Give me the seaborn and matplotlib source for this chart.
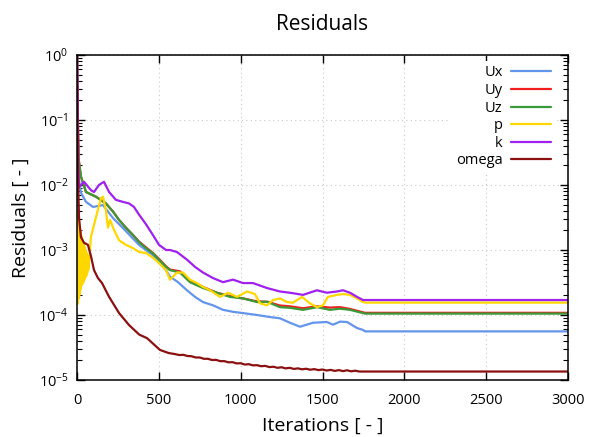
import matplotlib
matplotlib.use("Agg")
import matplotlib.pyplot as plt
import pandas as pd
import seaborn as sns

# residual histories (iteration, residual)
ux_it = [0, 4, 10, 24, 55, 98, 159, 189, 220, 257, 299, 342, 379, 421, 464, 501, 544,
         568, 617, 672, 721, 770, 831, 892, 953, 1014, 1100, 1179, 1240, 1301, 1362,
         1442, 1527, 1564, 1607, 1650, 1711, 1747, 1760, 3000]
ux_res = [1.0, 1.0e-1, 1.3e-2, 7.6e-3, 5.5e-3, 4.6e-3, 4.9e-3, 3.9e-3, 3.1e-3, 2.5e-3,
          1.95e-3, 1.5e-3, 1.2e-3, 1.0e-3, 8.3e-4, 6.6e-4, 4.9e-4, 3.9e-4, 3.2e-4,
          2.4e-4, 1.9e-4, 1.58e-4, 1.41e-4, 1.2e-4, 1.12e-4, 1.07e-4, 1.0e-4, 9.3e-5,
          8.9e-5, 7.6e-5, 6.6e-5, 7.6e-5, 7.8e-5, 7.1e-5, 7.9e-5, 7.8e-5, 6.3e-5,
          5.9e-5, 5.6e-5, 5.6e-5]

uy_it = [0, 4, 10, 24, 55, 116, 177, 220, 257, 299, 342, 379, 421, 464, 501, 544, 568,
         629, 690, 770, 855, 935, 1014, 1100, 1161, 1240, 1301, 1381, 1466, 1546, 1607,
         1668, 1747, 1760, 3000]
uy_res = [1.0, 1.5e-1, 2.5e-2, 1.35e-2, 7.8e-3, 6.6e-3, 5.2e-3, 3.9e-3, 2.9e-3, 2.2e-3,
          1.7e-3, 1.35e-3, 1.1e-3, 9.0e-4, 7.3e-4, 5.6e-4, 5.0e-4, 4.7e-4, 3.4e-4,
          2.7e-4, 2.2e-4, 1.95e-4, 1.8e-4, 1.62e-4, 1.6e-4, 1.4e-4, 1.36e-4, 1.27e-4,
          1.36e-4, 1.3e-4, 1.32e-4, 1.24e-4, 1.1e-4, 1.08e-4, 1.08e-4]

uz_it = [0, 4, 10, 24, 55, 116, 177, 220, 257, 299, 342, 379, 421, 464, 501, 544, 568,
         629, 690, 770, 855, 935, 1014, 1100, 1161, 1240, 1301, 1381, 1466, 1546, 1607,
         1668, 1747, 1760, 3000]
uz_res = [1.0, 1.5e-1, 2.5e-2, 1.35e-2, 7.8e-3, 6.6e-3, 5.2e-3, 3.9e-3, 2.9e-3, 2.2e-3,
          1.7e-3, 1.32e-3, 1.07e-3, 8.9e-4, 7.1e-4, 5.5e-4, 4.9e-4, 4.5e-4, 3.2e-4,
          2.6e-4, 2.2e-4, 1.9e-4, 1.8e-4, 1.58e-4, 1.6e-4, 1.32e-4, 1.29e-4, 1.2e-4,
          1.32e-4, 1.2e-4, 1.25e-4, 1.2e-4, 1.07e-4, 1.05e-4, 1.05e-4]

p_it = [0, 2, 4, 6, 8, 10, 12, 14, 16, 18, 20, 22, 24, 27, 30, 33, 36, 39, 42, 45, 48,
        51, 54, 57, 60, 63, 66, 69, 73, 85, 116, 147, 159, 177, 189, 202, 226, 257, 299,
        342, 379, 421, 464, 501, 544, 568, 611, 648, 690, 733, 770, 813, 874, 923, 978,
        1039, 1087, 1118, 1161, 1198, 1240, 1283, 1320, 1375, 1423, 1466, 1503, 1533,
        1589, 1625, 1668, 1711, 1747, 1760, 3000]
p_res = [4e-3, 2e-4, 3.5e-3, 1.5e-4, 3e-3, 1.8e-4, 2.5e-3, 2e-4, 2.2e-3, 2.2e-4, 2e-3,
         2.5e-4, 1.8e-3, 2.8e-4, 1.6e-3, 3e-4, 1.4e-3, 3.2e-4, 1.2e-3, 3.5e-4, 1.1e-3,
         3.8e-4, 1.0e-3, 4e-4, 9e-4, 4.5e-4, 8e-4, 5e-4, 6.3e-4, 1.58e-3, 3.2e-3, 6.3e-3,
         6.6e-3, 4.0e-3, 2.2e-3, 2.9e-3, 2.04e-3, 1.41e-3, 1.2e-3, 1.07e-3, 9.3e-4,
         9e-4, 7.6e-4, 6.3e-4, 4.9e-4, 3.5e-4, 4.5e-4, 4.5e-4, 3.5e-4, 3.1e-4, 2.7e-4,
         2.4e-4, 1.9e-4, 2.2e-4, 1.9e-4, 2.3e-4, 2.1e-4, 1.51e-4, 1.41e-4, 1.7e-4,
         1.8e-4, 1.58e-4, 1.55e-4, 1.9e-4, 1.51e-4, 1.32e-4, 1.41e-4, 1.9e-4, 2.04e-4,
         2.1e-4, 2.04e-4, 1.8e-4, 1.58e-4, 1.55e-4, 1.55e-4]

k_it = [0, 3, 8, 12, 43, 86, 104, 134, 165, 196, 238, 281, 318, 348, 379, 421, 464, 501,
        544, 568, 611, 672, 721, 770, 831, 892, 953, 1014, 1075, 1161, 1240, 1301, 1381,
        1466, 1527, 1589, 1625, 1668, 1711, 1747, 1760, 3000]
k_res = [1.0, 3e-1, 2e-2, 9.3e-3, 1.12e-2, 8.3e-3, 7.8e-3, 1.0e-2, 1.12e-2, 7.8e-3,
         5.9e-3, 5.5e-3, 5.2e-3, 4.6e-3, 3.5e-3, 2.5e-3, 1.7e-3, 1.2e-3, 1.0e-3, 1.0e-3,
         9.3e-4, 7.1e-4, 5.5e-4, 4.5e-4, 3.7e-4, 3.2e-4, 3.5e-4, 3.1e-4, 3.1e-4, 2.6e-4,
         2.3e-4, 2.2e-4, 2.04e-4, 2.4e-4, 2.2e-4, 2.3e-4, 2.4e-4, 2.2e-4, 1.9e-4,
         1.7e-4, 1.7e-4, 1.7e-4]

omega_it = [0, 2, 6, 12, 24, 43, 67, 86, 104, 128, 153, 196, 257, 318, 380, 428, 507,
            560, 600, 625, 650, 675, 700, 725, 750, 775, 800, 825, 850, 875, 900, 925,
            950, 975, 1000, 1025, 1050, 1075, 1100, 1125, 1150, 1175, 1200, 1225, 1250,
            1275, 1300, 1325, 1350, 1375, 1400, 1425, 1450, 1475, 1500, 1525, 1550, 1575,
            1600, 1625, 1650, 1675, 1700, 1725, 1750, 3000]
omega_res = [1.0, 2e-1, 1.5e-2, 3.2e-3, 1.58e-3, 1.29e-3, 1.2e-3, 7.9e-4, 4.9e-4,
             3.7e-4, 3.1e-4, 1.9e-4, 1.07e-4, 7.0e-5, 5.0e-5, 4.4e-5, 2.9e-5, 2.6e-5,
             2.5e-5, 2.42e-5, 2.44e-5, 2.34e-5, 2.32e-5, 2.22e-5, 2.22e-5, 2.12e-5,
             2.12e-5, 2.03e-5, 2.04e-5, 1.95e-5, 1.95e-5, 1.87e-5, 1.88e-5, 1.8e-5,
             1.81e-5, 1.73e-5, 1.75e-5, 1.68e-5, 1.69e-5, 1.63e-5, 1.65e-5, 1.58e-5,
             1.6e-5, 1.54e-5, 1.57e-5, 1.51e-5, 1.54e-5, 1.48e-5, 1.51e-5, 1.46e-5,
             1.49e-5, 1.44e-5, 1.47e-5, 1.42e-5, 1.45e-5, 1.4e-5, 1.43e-5, 1.38e-5,
             1.42e-5, 1.37e-5, 1.41e-5, 1.36e-5, 1.39e-5, 1.35e-5, 1.35e-5, 1.35e-5]

fields = ["Ux", "Uy", "Uz", "p", "k", "omega"]
colors = ["#6495ed", "#f01e1e", "#3a9a3a", "#ffd700", "#a020f0", "#8b1010"]

series = {
    "Ux": (ux_it, ux_res),
    "Uy": (uy_it, uy_res),
    "Uz": (uz_it, uz_res),
    "p": (p_it, p_res),
    "k": (k_it, k_res),
    "omega": (omega_it, omega_res),
}

sns.set_style("ticks")
plt.rcParams["font.family"] = ["Open Sans", "DejaVu Sans"]
plt.rcParams["mathtext.fontset"] = "custom"
plt.rcParams["mathtext.rm"] = "Open Sans"
plt.rcParams["text.color"] = "black"
plt.rcParams["axes.labelcolor"] = "black"

fig = plt.figure(figsize=(5.98, 4.37), dpi=100)
ax = fig.add_axes([77 / 598, 1 - 380 / 437, 491 / 598, 325 / 437])

for name, col in zip(fields, colors):
    it, res = series[name]
    df = pd.DataFrame({"it": it, "res": res})
    sns.lineplot(data=df, x="it", y="res", ax=ax, color=col, lw=1.6,
                 label=name, estimator=None, sort=False)

ax.set_yscale("log")
ax.set_xlim(0, 3000)
ax.set_ylim(1e-5, 1)
ax.set_xticks(range(0, 3001, 500))
ax.grid(True, which="major", color="#c8c8c8", linestyle=(0, (1, 3)), lw=0.8)
ax.tick_params(which="both", direction="in", top=True, right=True, labelsize=10.5,
               colors="black")
ax.tick_params(which="major", length=6, width=1)
ax.tick_params(axis="x", which="major", pad=9)
ax.tick_params(axis="y", which="major", pad=6)
ax.tick_params(which="minor", length=3.5, width=0.8)
for s in ax.spines.values():
    s.set_linewidth(1.1)
    s.set_color("black")

ax.set_title("Residuals", fontsize=15, pad=18, color="black")
ax.set_xlabel("Iterations [ - ]", fontsize=14, labelpad=7)
ax.set_ylabel("Residuals [ - ]", fontsize=14, labelpad=6)

leg = ax.legend(loc="upper right", bbox_to_anchor=(1 - 13 / 491, 1 - 6 / 325),
                markerfirst=False, frameon=True, framealpha=1, fontsize=10.5,
                handlelength=2.7, handletextpad=0.6, labelspacing=0.18,
                borderpad=0.3, borderaxespad=0, fancybox=False)
leg.get_frame().set_edgecolor("none")
leg.get_frame().set_facecolor("white")

fig.savefig("out.png", dpi=100)
